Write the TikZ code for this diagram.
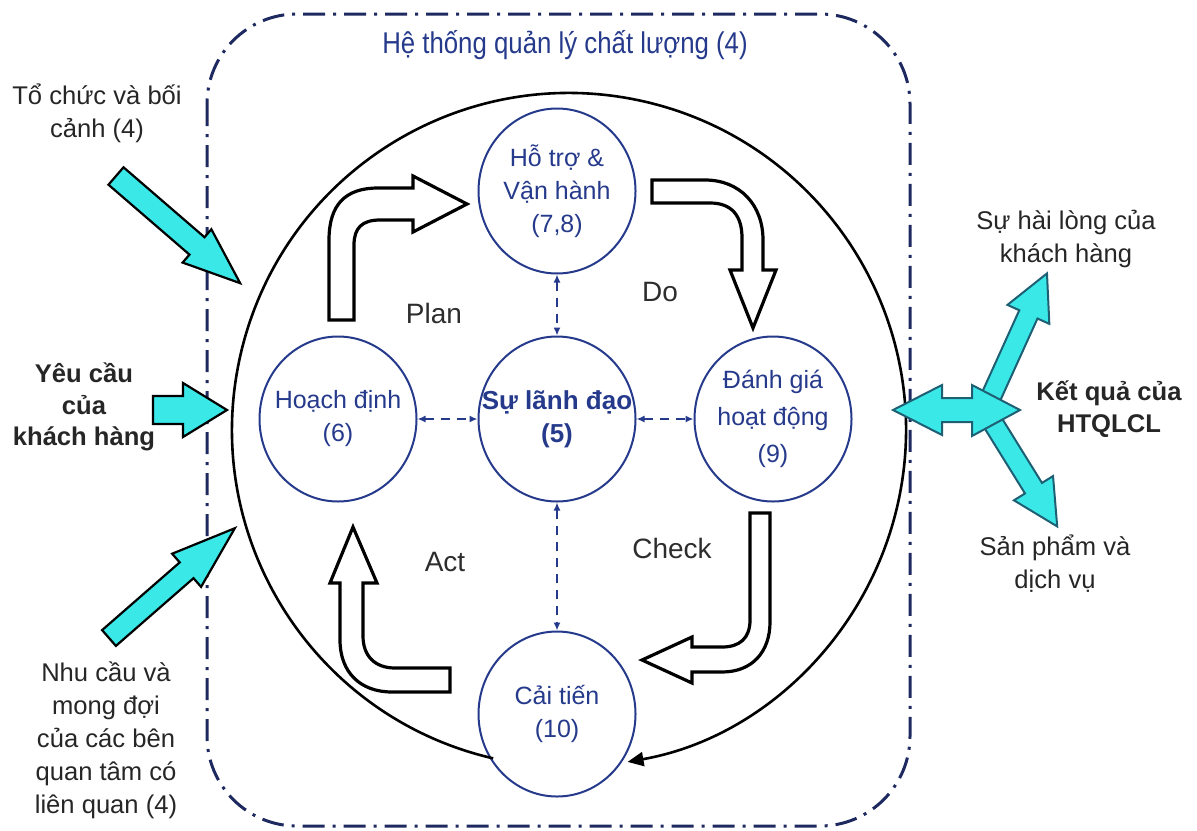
\documentclass[tikz,border=0pt]{standalone}
\usepackage{fontspec}
\setmainfont{Liberation Sans}
\newfontfamily\titlefont[FakeStretch=0.86]{Liberation Sans}
\usepackage{xcolor}
\usepackage{tikz}
\usetikzlibrary{arrows.meta, shapes.geometric}

\definecolor{boxnavy}{RGB}{30,42,95}
\definecolor{circblue}{RGB}{38,58,140}
\definecolor{cyanfill}{RGB}{58,232,232}
\definecolor{tealedge}{RGB}{30,95,115}
\definecolor{labelgray}{RGB}{45,45,45}

\begin{document}
\begin{tikzpicture}[x=0.5pt, y=-0.5pt,
  sysbox/.style  = {draw=boxnavy, line width=1.5pt, rounded corners=45pt,
                    dash pattern=on 11pt off 4pt on 1.5pt off 4pt},
  circ/.style    = {ellipse, draw=circblue, line width=1pt, fill=white,
                    minimum width=78.5pt, minimum height=82.5pt, inner sep=0pt},
  ctext/.style   = {text=circblue, align=center, inner sep=0pt,
                    font=\fontsize{12.5}{16.5}\selectfont},
  txt/.style     = {text=black!85, align=center, inner sep=0pt,
                    font=\fontsize{12.8}{16.5}\selectfont},
  pdca/.style    = {text=labelgray, inner sep=0pt,
                    font=\fontsize{14}{16}\selectfont},
  cycarr/.style  = {draw=black, line width=1.6pt, fill=white, line join=miter},
  inarr/.style   = {draw=black, line width=1.1pt, fill=cyanfill, line join=miter},
  outarr/.style  = {draw=tealedge, line width=1pt, fill=cyanfill, line join=miter},
  link/.style    = {{Latex[length=4pt,width=3.5pt]}-{Latex[length=4pt,width=3.5pt]},
                    circblue, line width=0.9pt, dash pattern=on 4.5pt off 3.5pt},
  loopline/.style= {line width=1.3pt, -{Triangle[length=8pt,width=7pt]}}
]
\useasboundingbox (0,0) rectangle (1197,830);

\draw[sysbox] (207,14) rectangle (910,826);
\node[text=circblue, inner sep=0pt, font=\titlefont\fontsize{15}{18}\selectfont]
  (hethong) at (565,45) {Hệ thống quản lý chất lượng (4)};

\node[circ, label={[ctext]center:{Hỗ trợ \&\\Vận hành\\(7,8)}}] (hotro) at (557,191) {};
\node[circ, label={[ctext]center:{Hoạch định\\(6)}}] (hoachdinh) at (338,419) {};
\node[circ, label={[ctext, font=\bfseries\fontsize{13}{16.5}\selectfont]center:{Sự lãnh đạo\\(5)}}] (lanhdao) at (557,419) {};
\node[circ, label={[ctext]center:{Đánh giá\\[2pt]hoạt động\\[2pt](9)}}] (danhgia) at (773,419) {};
\node[circ, label={[ctext]center:{Cải tiến\\(10)}}] (caitien) at (557,714) {};

\coordinate (tam) at (569,430);
\draw[loopline] ([shift={(103:337)}]tam) arc[start angle=103, end angle=440, radius=337];

\draw[link] (hoachdinh) -- (lanhdao);
\draw[link] (lanhdao) -- (danhgia);
\draw[link] (hotro) -- (lanhdao);
\draw[link] (lanhdao) -- (caitien);

\draw[cycarr] (329,320) -- (329,240) .. controls (329,205) and (345,188) .. (378,188)
  -- (413,188) -- (413,176) -- (467,204) -- (413,232) -- (413,220) -- (380,220)
  .. controls (362,220) and (354,228) .. (354,245) -- (354,320) -- cycle;
\draw[cycarr] (652,180) -- (705,180) .. controls (740,180) and (763,205) .. (763,240)
  -- (763,270) -- (776,270) -- (753,328) -- (730,270) -- (742,270) -- (742,238)
  .. controls (742,216) and (732,203) .. (710,203) -- (652,203) -- cycle;
\draw[cycarr] (750,513) -- (770,513) -- (770,622) .. controls (770,652) and (752,672) .. (722,672)
  -- (692,672) -- (692,683) -- (642,660) -- (692,637) -- (692,647) -- (722,647)
  .. controls (740,647) and (750,638) .. (750,620) -- cycle;
\draw[cycarr] (450,668) -- (395,668) .. controls (375,668) and (363,656) .. (363,636)
  -- (363,583) -- (377,583) -- (353,527) -- (330,583) -- (340,583) -- (340,640)
  .. controls (340,672) and (360,692) .. (392,692) -- (450,692) -- cycle;

\node[pdca] (planlbl) at (434,313) {Plan};
\node[pdca] (dolbl) at (660,292) {Do};
\node[pdca] (checklbl) at (672,548) {Check};
\node[pdca] (actlbl) at (445,562) {Act};

\draw[inarr, shift={(116,176)}, rotate=-40.8] (0,-11.5) -- (107,-11.5) -- (107,-22)
  -- (164,0) -- (107,22) -- (107,11.5) -- (0,11.5) -- cycle;
\draw[inarr, shift={(153,410)}] (0,-14) -- (30,-14) -- (30,-27) -- (74,0) -- (30,27)
  -- (30,14) -- (0,14) -- cycle;
\draw[inarr, shift={(109,638)}, rotate=41.1] (0,-10.5) -- (103,-10.5) -- (103,-22)
  -- (167,0) -- (103,22) -- (103,10.5) -- (0,10.5) -- cycle;

\draw[outarr, shift={(985,410)}, rotate=65.6] (0,-10) -- (105,-10) -- (105,-23)
  -- (150,0) -- (105,23) -- (105,10) -- (0,10) -- cycle;
\draw[outarr, shift={(985,410)}, rotate=-58.2] (0,-10) -- (92,-10) -- (92,-23)
  -- (137,0) -- (92,23) -- (92,10) -- (0,10) -- cycle;
\draw[outarr] (893,410) -- (942,385) -- (942,398) -- (972,398) -- (972,385) -- (1020,410)
  -- (972,436) -- (972,422) -- (942,422) -- (942,435) -- cycle;

\node[txt] (tochuc) at (97,113) {Tổ chức và bối\\cảnh (4)};
\node[txt, font=\bfseries\fontsize{12.8}{15.8}\selectfont] (yeucau) at (84,407) {Yêu cầu\\của\\khách hàng};
\node[txt] (nhucau) at (106,740) {Nhu cầu và\\mong đợi\\của các bên\\quan tâm có\\liên quan (4)};
\node[txt] (hailong) at (1066,239) {Sự hài lòng của\\khách hàng};
\node[txt, font=\bfseries\fontsize{12.8}{16}\selectfont] (ketqua) at (1109,409) {Kết quả của\\HTQLCL};
\node[txt] (sanpham) at (1055,564) {Sản phẩm và\\dịch vụ};
\end{tikzpicture}
\end{document}
